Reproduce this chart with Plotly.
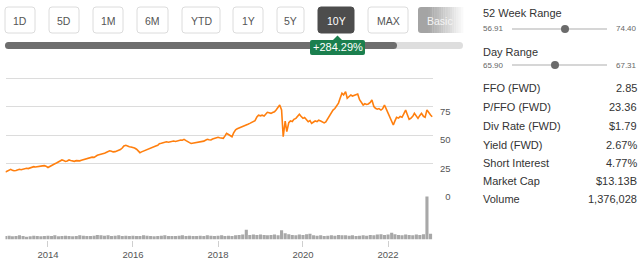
import plotly.graph_objects as go
import pandas as pd

W, H = 640, 263

# ---------------- data ----------------
# price sampled twice a month (1st and 15th)
dates = pd.date_range("2013-01-01", "2023-01-15", freq="SMS")

price_2013 = [17.6, 18.4, 19.4, 19.9, 19.0, 18.6, 18.9, 19.4, 19.9, 19.6, 20.1, 20.5,
              20.8, 20.5, 21.1, 21.8, 22.2, 21.9, 22.3, 22.8, 22.6, 22.9, 23.1, 22.7]
price_2014 = [21.5, 22.4, 23.6, 24.3, 24.8, 25.4, 26.2, 27.4, 28.1, 27.6, 26.8, 27.2,
              28.1, 27.7, 27.0, 26.9, 27.5, 27.1, 27.3, 27.8, 28.3, 28.8, 29.2, 29.7]
price_2015 = [29.9, 30.6, 30.4, 31.4, 32.2, 32.6, 32.9, 33.4, 33.9, 34.6, 35.2, 36.2,
              35.8, 35.2, 35.4, 36.0, 36.5, 37.2, 38.6, 40.4, 41.0, 40.2, 39.7, 39.4]
price_2016 = [39.2, 38.6, 37.5, 35.8, 34.5, 35.2, 36.0, 36.4, 37.0, 37.4, 38.2, 39.0,
              39.6, 40.3, 41.0, 42.4, 42.7, 43.2, 43.6, 44.1, 43.7, 44.2, 44.5, 44.7]
price_2017 = [44.3, 44.8, 45.0, 45.6, 45.4, 46.2, 45.1, 44.0, 43.3, 42.6, 42.9, 42.7,
              43.2, 43.8, 43.5, 44.1, 44.6, 45.4, 46.2, 45.8, 45.6, 46.4, 47.0, 47.4]
price_2018 = [48.0, 47.6, 47.2, 47.1, 49.0, 51.5, 50.4, 49.2, 48.5, 51.8, 54.6, 55.4,
              56.0, 56.6, 57.3, 57.8, 58.6, 59.4, 60.2, 61.0, 61.8, 62.6, 65.8, 67.4]
price_2019 = [66.8, 67.4, 66.7, 68.4, 69.9, 69.6, 69.0, 69.8, 70.4, 72.0, 74.5, 76.3,
              71.9, 48.5, 62.2, 53.0, 60.8, 62.4, 61.8, 63.8, 64.6, 66.0, 68.2, 66.4]
price_2020 = [64.6, 65.4, 63.2, 61.7, 62.6, 60.2, 61.4, 62.3, 61.7, 63.0, 62.2, 61.7,
              60.6, 61.4, 64.2, 66.8, 68.4, 71.9, 73.2, 75.4, 78.0, 82.2, 86.6, 85.2]
price_2021 = [88.0, 82.2, 84.0, 85.1, 84.2, 84.8, 85.0, 86.0, 81.0, 78.4, 76.3, 77.4,
              76.8, 77.2, 78.6, 80.7, 75.0, 73.4, 72.6, 73.2, 71.9, 73.0, 76.3, 73.2]
price_2022 = [69.0, 65.4, 61.7, 58.8, 62.4, 65.5, 64.8, 66.2, 65.5, 68.4, 71.9, 68.0,
              63.8, 64.6, 66.4, 69.0, 66.0, 64.6, 67.2, 69.0, 66.4, 65.5, 71.9, 69.4]
price_2023 = [67.5, 66.0]
price = (price_2013 + price_2014 + price_2015 + price_2016 + price_2017 + price_2018
         + price_2019 + price_2020 + price_2021 + price_2022 + price_2023)

# volume, millions of shares (monthly average)
months = pd.date_range("2013-01-01", "2023-01-01", freq="MS")
vol_2013 = [1.0, 1.1, 0.9, 1.0, 1.2, 1.0, 0.8, 0.9, 1.1, 1.0, 0.9, 1.0]
vol_2014 = [1.1, 1.0, 1.2, 0.9, 1.0, 1.1, 1.0, 0.9, 1.0, 1.2, 1.1, 1.0]
vol_2015 = [1.0, 1.1, 1.3, 1.2, 1.1, 1.2, 1.0, 1.1, 1.2, 1.0, 1.1, 1.0]
vol_2016 = [1.1, 1.0, 1.0, 1.2, 1.1, 1.0, 0.9, 1.0, 1.1, 1.2, 1.0, 1.0]
vol_2017 = [1.0, 1.1, 1.2, 1.0, 1.1, 1.0, 1.0, 1.1, 1.0, 1.2, 1.1, 1.0]
vol_2018 = [1.1, 1.2, 1.0, 1.1, 1.0, 1.2, 1.3, 1.4, 2.8, 1.3, 1.4, 1.3]
vol_2019 = [1.4, 1.3, 1.2, 1.3, 1.4, 1.2, 2.6, 1.8, 1.5, 1.3, 1.2, 1.4]
vol_2020 = [1.3, 1.5, 1.6, 1.2, 1.1, 1.2, 1.0, 1.1, 1.2, 1.1, 1.3, 1.2]
vol_2021 = [1.2, 1.1, 1.2, 1.0, 1.1, 1.2, 1.1, 1.3, 1.2, 1.4, 1.5, 1.3]
vol_2022 = [1.4, 1.9, 1.5, 1.3, 1.2, 1.4, 1.3, 1.2, 1.4, 1.3, 1.5, 12.2]
vol_2023 = [1.6]
volume = (vol_2013 + vol_2014 + vol_2015 + vol_2016 + vol_2017 + vol_2018
          + vol_2019 + vol_2020 + vol_2021 + vol_2022 + vol_2023)

y_tick_vals = [0, 25, 50, 75, 100]
y_tick_text = ["\u20070", "25", "50", "75", ""]

range_buttons = ["1D", "5D", "1M", "6M", "YTD", "1Y", "5Y", "10Y", "MAX"]
active_button = "10Y"
change_label = "+284.29%"

week52_low, week52_high = "56.91", "74.40"
day_low, day_high = "65.90", "67.31"
stat_labels = ["FFO (FWD)", "P/FFO (FWD)", "Div Rate (FWD)", "Yield (FWD)",
               "Short Interest", "Market Cap", "Volume"]
stat_values = ["2.85", "23.36", "$1.79", "2.67%", "4.77%", "$13.13B", "1,376,028"]

# ---------------- helpers (pixel -> paper) ----------------
def px(x):
    return x / W

def py(y):
    return 1 - y / H

def rrect(x0, y0, x1, y1, r):
    return (f"M{px(x0 + r)},{py(y0)} L{px(x1 - r)},{py(y0)} "
            f"Q{px(x1)},{py(y0)} {px(x1)},{py(y0 + r)} L{px(x1)},{py(y1 - r)} "
            f"Q{px(x1)},{py(y1)} {px(x1 - r)},{py(y1)} L{px(x0 + r)},{py(y1)} "
            f"Q{px(x0)},{py(y1)} {px(x0)},{py(y1 - r)} L{px(x0)},{py(y0 + r)} "
            f"Q{px(x0)},{py(y0)} {px(x0 + r)},{py(y0)} Z")

FONT = "Liberation Sans, Arial, sans-serif"

fig = go.Figure()
fig.add_trace(go.Bar(x=months, y=volume, marker=dict(color="#a8a8a8", line=dict(width=0)),
                     xaxis="x", yaxis="y2", hoverinfo="skip"))
fig.add_trace(go.Scatter(x=dates, y=price, mode="lines",
                         line=dict(color="#ff7f0e", width=1.6),
                         xaxis="x", yaxis="y", hoverinfo="skip"))

shapes = []
annotations = []

# range buttons
btn_x = [(5, 35), (49, 79), (93, 123), (137, 168), (182, 220), (233, 263), (277, 304), (318, 354), (368, 408)]
for lab, (x0, x1) in zip(range_buttons, btn_x):
    active = lab == active_button
    shapes.append(dict(type="path", path=rrect(x0, 7, x1, 33, 3), xref="paper", yref="paper",
                       fillcolor="#4d4d4d" if active else "white",
                       line=dict(color="#4d4d4d" if active else "#dcdcdc", width=1)))
    annotations.append(dict(text=lab, x=px((x0 + x1) / 2), y=py(20.5), xref="paper", yref="paper",
                            showarrow=False, xanchor="center", yanchor="middle",
                            font=dict(family=FONT, size=10.5, color="white" if active else "#555")))

# "Basic" button with fading gradient
shapes.append(dict(type="path", path=rrect(418, 7, 432, 33, 3), xref="paper", yref="paper",
                   fillcolor="#a4a4a4", line=dict(width=0)))
n_sl = 16
for i in range(n_sl):
    xa = 428 + i * (463 - 428) / n_sl
    xb = 428 + (i + 1) * (463 - 428) / n_sl
    t = (i + 0.5) / n_sl
    c = int(164 + (252 - 164) * t)
    shapes.append(dict(type="rect", x0=px(xa), x1=px(xb + 0.3), y0=py(33), y1=py(7),
                       xref="paper", yref="paper", fillcolor=f"rgb({c},{c},{c})", line=dict(width=0)))
annotations.append(dict(text="Basic", x=px(440), y=py(20.5), xref="paper", yref="paper",
                        showarrow=False, xanchor="center", yanchor="middle",
                        font=dict(family=FONT, size=10.5, color="#f4f4f4")))

# progress bar
shapes.append(dict(type="path", path=rrect(5, 42, 463, 49, 3.5), xref="paper", yref="paper",
                   fillcolor="#dedede", line=dict(width=0)))
shapes.append(dict(type="path", path=rrect(5, 42, 397, 49, 3.5), xref="paper", yref="paper",
                   fillcolor="#6e6e6e", line=dict(width=0)))

# change badge
shapes.append(dict(type="path",
                   path=f"M{px(332.5)},{py(40.5)} L{px(337.5)},{py(35.5)} L{px(342.5)},{py(40.5)} Z",
                   xref="paper", yref="paper", fillcolor="#1b7f4e", line=dict(width=0)))
shapes.append(dict(type="path", path=rrect(310, 40, 365, 55, 2), xref="paper", yref="paper",
                   fillcolor="#1b7f4e", line=dict(width=0)))
annotations.append(dict(text=change_label, x=px(337.5), y=py(47.5), xref="paper", yref="paper",
                        showarrow=False, xanchor="center", yanchor="middle",
                        font=dict(family=FONT, size=11, color="white")))

# right panel
def label(txt, x, y, anchor="left", size=11, color="#333"):
    annotations.append(dict(text=txt, x=px(x), y=py(y), xref="paper", yref="paper",
                            showarrow=False, xanchor=anchor, yanchor="middle",
                            font=dict(family=FONT, size=size, color=color)))

label("52 Week Range", 481, 13)
label(week52_low, 481, 29, size=8, color="#666")
label(week52_high, 639, 29, anchor="right", size=8, color="#666")
shapes.append(dict(type="line", x0=px(512), x1=px(607), y0=py(29), y1=py(29),
                   xref="paper", yref="paper", line=dict(color="#d6d6d6", width=2)))
shapes.append(dict(type="circle", x0=px(561), x1=px(569), y0=py(33), y1=py(25),
                   xref="paper", yref="paper", fillcolor="#6b6b6b", line=dict(width=0)))

label("Day Range", 481, 52)
label(day_low, 481, 65, size=8, color="#666")
label(day_high, 639, 65, anchor="right", size=8, color="#666")
shapes.append(dict(type="line", x0=px(512), x1=px(607), y0=py(65), y1=py(65),
                   xref="paper", yref="paper", line=dict(color="#d6d6d6", width=2)))
shapes.append(dict(type="circle", x0=px(551), x1=px(559), y0=py(69), y1=py(61),
                   xref="paper", yref="paper", fillcolor="#6b6b6b", line=dict(width=0)))

row_y = [88, 107, 126, 144.5, 163, 181, 199]
for lab, val, yy in zip(stat_labels, stat_values, row_y):
    label(lab, 481, yy)
    label(val, 639, yy, anchor="right")

u = 1.14  # pixels per price unit
fig.update_layout(
    width=W, height=H,
    margin=dict(l=0, r=0, t=0, b=0, autoexpand=False),
    paper_bgcolor="white", plot_bgcolor="white",
    showlegend=False, bargap=0.05,
    font=dict(family=FONT, color="#555"),
    xaxis=dict(domain=[px(5.5), px(433)], range=["2013-01-01", "2023-01-22"],
               anchor="y2", type="date", tickformat="%Y", dtick="M24", tick0="2014-01-01",
               showgrid=False, zeroline=False, showline=False, automargin=False,
               ticks="outside", ticklen=6, tickcolor="#cfcfcf", tickwidth=1,
               tickfont=dict(family=FONT, size=9.5, color="#555")),
    yaxis=dict(domain=[py(192 + 2 * u), py(78 - 2 * u)], range=[-2, 102], side="right",
               tickvals=y_tick_vals, ticktext=y_tick_text, automargin=False,
               showgrid=True, gridcolor="#dcdcdc", gridwidth=1,
               zeroline=False, showline=False, ticks="",
               ticklabelshift=5, ticklabelstandoff=6,
               tickfont=dict(family=FONT, size=9.5, color="#555")),
    yaxis2=dict(domain=[py(239.5), py(192)], range=[0, 13.5], automargin=False,
                visible=False, showgrid=False, zeroline=False),
    shapes=shapes, annotations=annotations,
)

fig.write_html("out.html")
